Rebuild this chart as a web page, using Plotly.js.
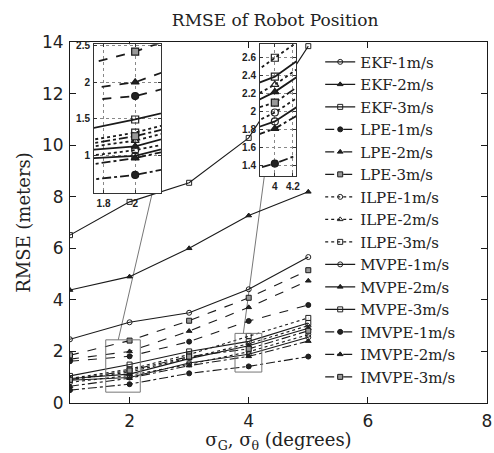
<!DOCTYPE html>
<html><head><meta charset="utf-8">
<script src="https://cdn.plot.ly/plotly-3.0.1.min.js"></script>
<style>html,body{margin:0;padding:0;background:#fff}#chart{width:494px;height:453px}</style>
</head><body><div id="chart"></div>
<script>
// x values: sigma_G, sigma_theta (degrees)
const sigma = [1, 2, 3, 4, 5];

// RMSE (meters) per method and speed
const ekf1   = [2.47, 3.13, 3.50, 4.41, 5.66];
const ekf2   = [4.38, 4.90, 6.00, 7.27, 8.19];
const ekf3   = [6.51, 7.80, 8.54, 10.28, 13.84];
const lpe1   = [1.62, 1.81, 2.38, 3.18, 3.80];
const lpe2   = [1.70, 2.00, 2.79, 3.71, 4.74];
const lpe3   = [1.85, 2.42, 3.19, 4.08, 5.15];
const ilpe1  = [0.80, 1.07, 1.50, 1.99, 2.65];
const ilpe2  = [0.90, 1.20, 1.75, 2.30, 3.00];
const ilpe3  = [0.95, 1.31, 1.88, 2.60, 3.30];
const mvpe1  = [0.88, 0.99, 1.55, 1.89, 2.55];
const mvpe2  = [0.95, 1.12, 1.72, 2.22, 2.90];
const mvpe3  = [1.05, 1.49, 2.00, 2.39, 3.10];
const imvpe1 = [0.50, 0.73, 1.15, 1.42, 1.80];
const imvpe2 = [0.65, 0.96, 1.45, 1.81, 2.40];
const imvpe3 = [0.90, 1.26, 1.80, 2.10, 2.80];

const seriesNames = ['EKF-1m/s','EKF-2m/s','EKF-3m/s','LPE-1m/s','LPE-2m/s','LPE-3m/s',
  'ILPE-1m/s','ILPE-2m/s','ILPE-3m/s','MVPE-1m/s','MVPE-2m/s','MVPE-3m/s',
  'IMVPE-1m/s','IMVPE-2m/s','IMVPE-3m/s'];
const seriesValues = [ekf1, ekf2, ekf3, lpe1, lpe2, lpe3, ilpe1, ilpe2, ilpe3,
  mvpe1, mvpe2, mvpe3, imvpe1, imvpe2, imvpe3];

// style per series
const dashes  = ['solid','solid','solid','dash','dash','dash','dot','dot','dot',
  'solid','solid','solid','dashdot','dashdot','dashdot'];
const symbols = ['circle-open','triangle-up','square-open','circle','triangle-up','square',
  'circle-open','triangle-up-open','square-open','circle-open','triangle-up','square-open',
  'circle','triangle-up','square'];
const fills = ['#222','#222','#222','#222','#222','#999','#222','#222','#222','#222','#222','#222',
  '#222','#222','#999'];

const ink = '#1a1a1a';
const traces = [];
seriesNames.forEach((nm, i) => {
  traces.push({
    x: sigma, y: seriesValues[i], name: nm, type: 'scatter', mode: 'lines+markers',
    line: {color: ink, width: 1.1, dash: dashes[i]},
    marker: {symbol: symbols[i], size: 5, color: fills[i], line: {color: ink, width: 1}},
    xaxis: 'x', yaxis: 'y'
  });
});
['2','3'].forEach(ax => {
  seriesNames.forEach((nm, i) => {
    traces.push({
      x: sigma, y: seriesValues[i], name: nm, type: 'scatter', mode: 'lines+markers',
      showlegend: false, hoverinfo: 'skip',
      line: {color: ink, width: 1.8, dash: dashes[i]},
      marker: {symbol: symbols[i], size: 7, color: fills[i], line: {color: ink, width: 1.2}},
      xaxis: 'x' + ax, yaxis: 'y' + ax
    });
  });
});

const serif = 'DejaVu Serif, serif';
const sans = 'DejaVu Sans, sans-serif';
const insetAxis = {
  showline: true, mirror: 'ticks', linecolor: '#333', linewidth: 1,
  ticks: 'inside', ticklen: 3, tickcolor: '#333',
  showgrid: true, gridcolor: '#888', griddash: 'dot', gridwidth: 1,
  zeroline: false, tickfont: {family: 'Liberation Sans, sans-serif', size: 10, color: '#222', weight: 'bold'},
  ticklabelstandoff: 1
};

const layout = {
  width: 494, height: 453,
  margin: {l: 70, r: 7, t: 42, b: 50},
  paper_bgcolor: '#fff', plot_bgcolor: '#fff',
  showlegend: true,
  title: {text: 'RMSE of Robot Position', font: {family: serif, size: 17, color: '#222'},
    x: 0.557, xref: 'container', y: 0.955, yref: 'container', yanchor: 'middle'},
  xaxis: {
    range: [1, 8], dtick: 2, tick0: 0, showline: true, mirror: 'ticks', linecolor: ink, linewidth: 1,
    ticks: 'inside', ticklen: 6, tickcolor: ink, showgrid: false, zeroline: false,
    tickfont: {family: sans, size: 17, color: '#222'}, ticklabelstandoff: 3,
    title: {text: 'σ<sub>G</sub>, σ<sub>θ</sub> (degrees)', font: {family: serif, size: 18, color: '#222'}, standoff: 9},
    domain: [0, 1], anchor: 'y'
  },
  yaxis: {
    range: [0, 14], dtick: 2, showline: true, mirror: 'ticks', linecolor: ink, linewidth: 1,
    ticks: 'inside', ticklen: 6, tickcolor: ink, showgrid: false, zeroline: false,
    tickfont: {family: sans, size: 17, color: '#222'}, ticklabelstandoff: 2,
    title: {text: 'RMSE (meters)', font: {family: serif, size: 18, color: '#222'}, standoff: 6},
    domain: [0, 1], anchor: 'x'
  },
  xaxis2: Object.assign({}, insetAxis, {domain: [0.0576, 0.2182], range: [1.74, 2.163], tickvals: [1.8, 2], ticktext: ['1.8','2'], anchor: 'y2'}),
  yaxis2: Object.assign({}, insetAxis, {domain: [0.5812, 0.9936], range: [0.48, 2.52], tickvals: [1, 1.5, 2, 2.5], ticktext: ['1','1.5','2','2.5'], anchor: 'x2'}),
  xaxis3: Object.assign({}, insetAxis, {domain: [0.4556, 0.5420], range: [3.835, 4.235], tickvals: [4, 4.2], ticktext: ['4','4.2'], anchor: 'y3'}),
  yaxis3: Object.assign({}, insetAxis, {domain: [0.6283, 0.9936], range: [1.28, 2.75], tickvals: [1.4,1.6,1.8,2,2.2,2.4,2.6], ticktext: ['1.4','1.6','1.8','2','2.2','2.4','2.6'], anchor: 'x3'}),
  legend: {
    x: 0.6, y: 0.99, xanchor: 'left', yanchor: 'top',
    bgcolor: 'rgba(255,255,255,0)', borderwidth: 0,
    font: {family: serif, size: 15, color: '#222'}
  },
  shapes: [
    {type: 'rect', xref: 'x', yref: 'y', x0: 1.6, x1: 2.18, y0: 0.42, y1: 2.45, line: {color: '#777', width: 1}, layer: 'above'},
    {type: 'rect', xref: 'x', yref: 'y', x0: 3.77, x1: 4.22, y0: 1.2, y1: 2.7, line: {color: '#777', width: 1}, layer: 'above'},
    {type: 'line', xref: 'x', yref: 'y', x0: 2.38, y0: 8.14, x1: 1.81, y1: 2.45, line: {color: '#777', width: 1}, layer: 'below'},
    {type: 'line', xref: 'x', yref: 'y', x0: 4.26, y0: 8.76, x1: 3.91, y1: 2.7, line: {color: '#777', width: 1}, layer: 'below'}
  ]
};

Plotly.newPlot('chart', traces, layout, {displayModeBar: false, staticPlot: true});
</script>
</body></html>
